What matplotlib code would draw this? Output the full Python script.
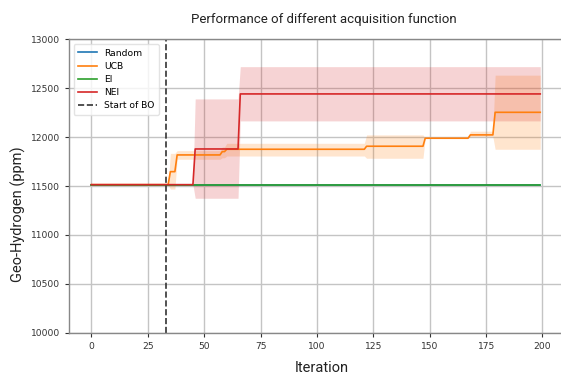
import numpy as np
import matplotlib
matplotlib.use("Agg")
import matplotlib.pyplot as plt

n_iter = 200

# step segments: first iteration of each segment, value, band lower, band upper
ucb_starts = [0, 35, 38, 58, 60, 122, 148, 168, 179]
ucb_vals   = [11515, 11648, 11819, 11853, 11877, 11908, 11990, 12024, 12255]
ucb_lo     = [11515, 11470, 11775, 11790, 11808, 11785, 11990, 12005, 11877]
ucb_hi     = [11515, 11835, 11863, 11900, 11938, 12024, 11990, 12062, 12635]

nei_starts = [0, 46, 66]
nei_vals   = [11515, 11880, 12443]
nei_lo     = [11515, 11376, 12167]
nei_hi     = [11515, 12392, 12722]

ei_val = 11515
random_val = 11515
bo_start = 33

def expand(starts, vals):
    lengths = np.diff(starts + [n_iter])
    return np.repeat(vals, lengths)

it = np.arange(n_iter)
ucb = expand(ucb_starts, ucb_vals)
ucb_l = expand(ucb_starts, ucb_lo)
ucb_h = expand(ucb_starts, ucb_hi)
nei = expand(nei_starts, nei_vals)
nei_l = expand(nei_starts, nei_lo)
nei_h = expand(nei_starts, nei_hi)
ei = np.full(n_iter, ei_val)
rnd = np.full(n_iter, random_val)

fig = plt.figure(figsize=(5.61, 3.76), dpi=100)
ax = fig.add_axes([0.123, 0.115, 0.880, 0.780])

ax.plot(it, rnd, color='#1f77b4', lw=1.2, label='Random')
ax.plot(it, ucb, color='#ff7f0e', lw=1.2, label='UCB')
ax.fill_between(it, ucb_l, ucb_h, color='#ff7f0e', alpha=0.2, lw=0)
ax.plot(it, ei, color='#2ca02c', lw=1.2, label='EI')
ax.plot(it, nei, color='#d62728', lw=1.2, label='NEI')
ax.fill_between(it, nei_l, nei_h, color='#d62728', alpha=0.2, lw=0)
ax.axvline(bo_start, color='#333333', ls='--', lw=1.2, label='Start of BO')

ax.set_ylim(10000, 13000)
ax.set_xlim(-9.95, 208.95)
ax.set_xticks([0, 25, 50, 75, 100, 125, 150, 175, 200])
ax.set_yticks([10000, 10500, 11000, 11500, 12000, 12500, 13000])
ax.grid(True, color='#c4c4c4', lw=1.0)
ax.set_axisbelow(True)
ax.tick_params(labelsize=6.6, colors='#333333', length=3, width=0.8)
for s in ax.spines.values():
    s.set_color('#888888')
    s.set_linewidth(1.0)

ax.set_title('Performance of different acquisition function', fontfamily='Roboto',
             fontsize=9.5, pad=12, color='#222222', x=0.517)
ax.set_xlabel('Iteration', fontfamily='Roboto', fontsize=10.5, color='#222222')
ax.xaxis.set_label_coords(0.513, -0.095)
ax.set_ylabel('Geo-Hydrogen (ppm)', fontfamily='Roboto', fontsize=10.5, color='#222222')
ax.yaxis.set_label_coords(-0.088, 0.405)

leg = ax.legend(loc='upper left', fontsize=6.6, framealpha=0.8, borderpad=0.5,
                handlelength=2.0, labelspacing=0.45)
leg.get_frame().set_edgecolor('#dddddd')

fig.savefig('out.png', dpi=100)
